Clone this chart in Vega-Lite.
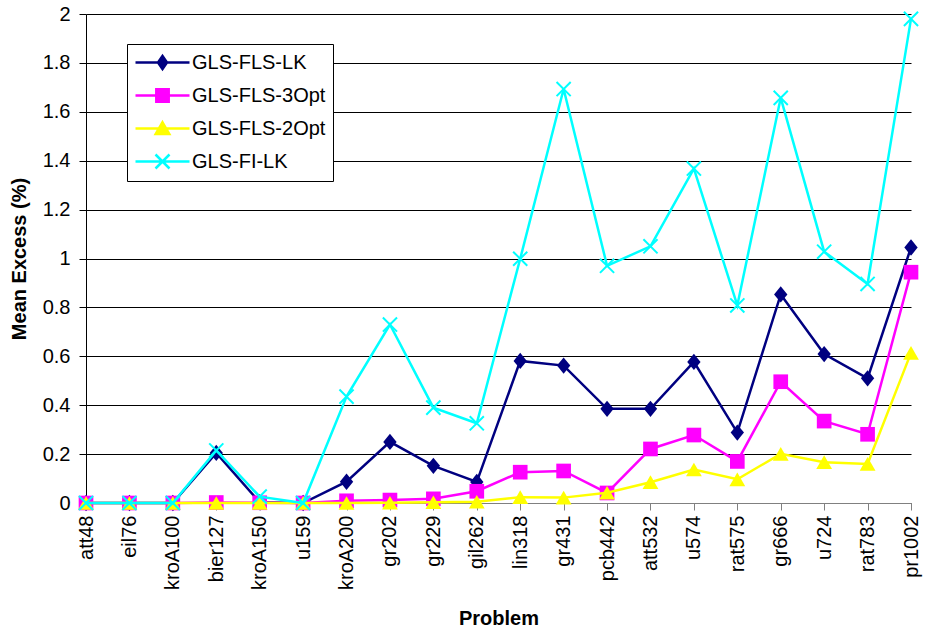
{
  "$schema": "https://vega.github.io/schema/vega-lite/v6.json",
  "width": 825,
  "height": 489,
  "autosize": {"type": "none"},
  "padding": {"left": 86, "top": 14, "right": 19, "bottom": 127},
  "background": "white",
  "config": {
    "view": {"stroke": null},
    "font": "Liberation Sans",
    "axis": {"labelFont": "Liberation Sans", "titleFont": "Liberation Sans", "labelColor": "black", "titleColor": "black", "labelFontSize": 20, "titleFontSize": 20, "titleFontWeight": "bold"}
  },
  "data": {
    "values": [
      {"problem": "att48", "series": "GLS-FLS-LK", "value": 0},
      {"problem": "eil76", "series": "GLS-FLS-LK", "value": 0},
      {"problem": "kroA100", "series": "GLS-FLS-LK", "value": 0},
      {"problem": "bier127", "series": "GLS-FLS-LK", "value": 0.205},
      {"problem": "kroA150", "series": "GLS-FLS-LK", "value": 0.003},
      {"problem": "u159", "series": "GLS-FLS-LK", "value": 0},
      {"problem": "kroA200", "series": "GLS-FLS-LK", "value": 0.087},
      {"problem": "gr202", "series": "GLS-FLS-LK", "value": 0.25},
      {"problem": "gr229", "series": "GLS-FLS-LK", "value": 0.152},
      {"problem": "gil262", "series": "GLS-FLS-LK", "value": 0.086},
      {"problem": "lin318", "series": "GLS-FLS-LK", "value": 0.581},
      {"problem": "gr431", "series": "GLS-FLS-LK", "value": 0.562},
      {"problem": "pcb442", "series": "GLS-FLS-LK", "value": 0.385},
      {"problem": "att532", "series": "GLS-FLS-LK", "value": 0.385},
      {"problem": "u574", "series": "GLS-FLS-LK", "value": 0.577},
      {"problem": "rat575", "series": "GLS-FLS-LK", "value": 0.288},
      {"problem": "gr666", "series": "GLS-FLS-LK", "value": 0.853},
      {"problem": "u724", "series": "GLS-FLS-LK", "value": 0.609},
      {"problem": "rat783", "series": "GLS-FLS-LK", "value": 0.51},
      {"problem": "pr1002", "series": "GLS-FLS-LK", "value": 1.045},
      {"problem": "att48", "series": "GLS-FLS-3Opt", "value": 0},
      {"problem": "eil76", "series": "GLS-FLS-3Opt", "value": 0},
      {"problem": "kroA100", "series": "GLS-FLS-3Opt", "value": 0},
      {"problem": "bier127", "series": "GLS-FLS-3Opt", "value": 0.002},
      {"problem": "kroA150", "series": "GLS-FLS-3Opt", "value": 0.001},
      {"problem": "u159", "series": "GLS-FLS-3Opt", "value": 0},
      {"problem": "kroA200", "series": "GLS-FLS-3Opt", "value": 0.009},
      {"problem": "gr202", "series": "GLS-FLS-3Opt", "value": 0.012},
      {"problem": "gr229", "series": "GLS-FLS-3Opt", "value": 0.017},
      {"problem": "gil262", "series": "GLS-FLS-3Opt", "value": 0.048},
      {"problem": "lin318", "series": "GLS-FLS-3Opt", "value": 0.126},
      {"problem": "gr431", "series": "GLS-FLS-3Opt", "value": 0.131},
      {"problem": "pcb442", "series": "GLS-FLS-3Opt", "value": 0.041},
      {"problem": "att532", "series": "GLS-FLS-3Opt", "value": 0.221},
      {"problem": "u574", "series": "GLS-FLS-3Opt", "value": 0.278},
      {"problem": "rat575", "series": "GLS-FLS-3Opt", "value": 0.17},
      {"problem": "gr666", "series": "GLS-FLS-3Opt", "value": 0.496},
      {"problem": "u724", "series": "GLS-FLS-3Opt", "value": 0.335},
      {"problem": "rat783", "series": "GLS-FLS-3Opt", "value": 0.281},
      {"problem": "pr1002", "series": "GLS-FLS-3Opt", "value": 0.944},
      {"problem": "att48", "series": "GLS-FLS-2Opt", "value": 0},
      {"problem": "eil76", "series": "GLS-FLS-2Opt", "value": 0},
      {"problem": "kroA100", "series": "GLS-FLS-2Opt", "value": 0},
      {"problem": "bier127", "series": "GLS-FLS-2Opt", "value": 0},
      {"problem": "kroA150", "series": "GLS-FLS-2Opt", "value": 0},
      {"problem": "u159", "series": "GLS-FLS-2Opt", "value": 0},
      {"problem": "kroA200", "series": "GLS-FLS-2Opt", "value": 0},
      {"problem": "gr202", "series": "GLS-FLS-2Opt", "value": 0.001},
      {"problem": "gr229", "series": "GLS-FLS-2Opt", "value": 0.003},
      {"problem": "gil262", "series": "GLS-FLS-2Opt", "value": 0.005},
      {"problem": "lin318", "series": "GLS-FLS-2Opt", "value": 0.024},
      {"problem": "gr431", "series": "GLS-FLS-2Opt", "value": 0.022},
      {"problem": "pcb442", "series": "GLS-FLS-2Opt", "value": 0.042},
      {"problem": "att532", "series": "GLS-FLS-2Opt", "value": 0.085},
      {"problem": "u574", "series": "GLS-FLS-2Opt", "value": 0.137},
      {"problem": "rat575", "series": "GLS-FLS-2Opt", "value": 0.097},
      {"problem": "gr666", "series": "GLS-FLS-2Opt", "value": 0.201},
      {"problem": "u724", "series": "GLS-FLS-2Opt", "value": 0.167},
      {"problem": "rat783", "series": "GLS-FLS-2Opt", "value": 0.16},
      {"problem": "pr1002", "series": "GLS-FLS-2Opt", "value": 0.614},
      {"problem": "att48", "series": "GLS-FI-LK", "value": 0},
      {"problem": "eil76", "series": "GLS-FI-LK", "value": 0},
      {"problem": "kroA100", "series": "GLS-FI-LK", "value": 0},
      {"problem": "bier127", "series": "GLS-FI-LK", "value": 0.215},
      {"problem": "kroA150", "series": "GLS-FI-LK", "value": 0.026},
      {"problem": "u159", "series": "GLS-FI-LK", "value": 0},
      {"problem": "kroA200", "series": "GLS-FI-LK", "value": 0.435},
      {"problem": "gr202", "series": "GLS-FI-LK", "value": 0.73},
      {"problem": "gr229", "series": "GLS-FI-LK", "value": 0.39},
      {"problem": "gil262", "series": "GLS-FI-LK", "value": 0.326},
      {"problem": "lin318", "series": "GLS-FI-LK", "value": 0.999},
      {"problem": "gr431", "series": "GLS-FI-LK", "value": 1.693},
      {"problem": "pcb442", "series": "GLS-FI-LK", "value": 0.97},
      {"problem": "att532", "series": "GLS-FI-LK", "value": 1.05},
      {"problem": "u574", "series": "GLS-FI-LK", "value": 1.368},
      {"problem": "rat575", "series": "GLS-FI-LK", "value": 0.808},
      {"problem": "gr666", "series": "GLS-FI-LK", "value": 1.657},
      {"problem": "u724", "series": "GLS-FI-LK", "value": 1.028},
      {"problem": "rat783", "series": "GLS-FI-LK", "value": 0.896},
      {"problem": "pr1002", "series": "GLS-FI-LK", "value": 1.98}
    ]
  },
  "encoding": {
    "x": {
      "field": "problem", "type": "ordinal",
      "scale": {"type": "point", "padding": 0, "domain": ["att48","eil76","kroA100","bier127","kroA150","u159","kroA200","gr202","gr229","gil262","lin318","gr431","pcb442","att532","u574","rat575","gr666","u724","rat783","pr1002"]},
      "axis": {"title": "Problem", "labelAngle": -90, "labelPadding": 5, "tickSize": 7, "domainColor": "#808080", "tickColor": "#808080", "domainWidth": 1, "grid": false, "titlePadding": 19}
    },
    "y": {
      "field": "value", "type": "quantitative",
      "scale": {"domain": [0, 2], "nice": false},
      "axis": {"title": "Mean Excess (%)", "values": [0, 0.2, 0.4, 0.6, 0.8, 1, 1.2, 1.4, 1.6, 1.8, 2], "format": "~g", "tickSize": 7, "labelPadding": 9, "domainColor": "black", "tickColor": "black", "grid": true, "gridColor": "black", "gridOpacity": 1, "gridWidth": 1, "titlePadding": 13}
    }
  },
  "layer": [
    {"transform": [{"filter": "datum.series === 'GLS-FLS-LK'"}], "mark": {"type": "line", "color": "#000080", "strokeWidth": 2.5}},
    {"transform": [{"filter": "datum.series === 'GLS-FLS-LK'"}], "mark": {"type": "point", "filled": true, "opacity": 1, "color": "#000080", "shape": "M0,-1.1L0.9,0L0,1.1L-0.9,0Z", "size": 220}},
    {"transform": [{"filter": "datum.series === 'GLS-FLS-3Opt'"}], "mark": {"type": "line", "color": "#FF00FF", "strokeWidth": 2.5}},
    {"transform": [{"filter": "datum.series === 'GLS-FLS-3Opt'"}], "mark": {"type": "point", "filled": true, "opacity": 1, "color": "#FF00FF", "shape": "square", "size": 215}},
    {"transform": [{"filter": "datum.series === 'GLS-FLS-2Opt'"}], "mark": {"type": "line", "color": "#FFFF00", "strokeWidth": 2.5}},
    {"transform": [{"filter": "datum.series === 'GLS-FLS-2Opt'"}], "mark": {"type": "point", "filled": true, "opacity": 1, "color": "#FFFF00", "shape": "triangle-up", "size": 250}},
    {"transform": [{"filter": "datum.series === 'GLS-FI-LK'"}], "mark": {"type": "line", "color": "#00FFFF", "strokeWidth": 2.5}},
    {"transform": [{"filter": "datum.series === 'GLS-FI-LK'"}], "mark": {"type": "point", "filled": false, "opacity": 1, "color": "#00FFFF", "strokeWidth": 2, "shape": "M-1,-1L1,1M-1,1L1,-1", "size": 200}},
    {
      "mark": {"type": "point", "filled": true, "opacity": 0},
      "encoding": {
        "shape": {"field": "series", "type": "nominal",
          "scale": {"domain": ["GLS-FLS-LK","GLS-FLS-3Opt","GLS-FLS-2Opt","GLS-FI-LK"], "range": ["M-1,0H4.4M1.7,-0.65L2.15,0L1.7,0.65L1.25,0Z", "M-1,0H4.4M1.08,-0.62H2.32V0.62H1.08Z", "M-1,0H4.4M1.7,-0.62L2.38,0.55H1.02Z", "M-1,0H4.4M1,-0.7L2.4,0.7M1,0.7L2.4,-0.7"]},
          "legend": {"orient": "none", "legendX": 41, "legendY": 30, "title": null, "symbolSize": 400, "symbolStrokeWidth": 2.5, "symbolOpacity": 1, "labelFont": "Liberation Sans", "labelFontSize": 20, "labelColor": "black", "labelOffset": 35, "rowPadding": 10, "padding": 7, "strokeColor": "black", "fillColor": "white"}},
        "fill": {"field": "series", "type": "nominal",
          "scale": {"domain": ["GLS-FLS-LK","GLS-FLS-3Opt","GLS-FLS-2Opt","GLS-FI-LK"], "range": ["#000080", "#FF00FF", "#FFFF00", "#00FFFF"]},
          "legend": {"orient": "none", "legendX": 41, "legendY": 30, "title": null, "symbolSize": 400, "symbolStrokeWidth": 2.5, "symbolOpacity": 1, "labelFont": "Liberation Sans", "labelFontSize": 20, "labelColor": "black", "labelOffset": 35, "rowPadding": 10, "padding": 7, "strokeColor": "black", "fillColor": "white"}},
        "stroke": {"field": "series", "type": "nominal",
          "scale": {"domain": ["GLS-FLS-LK","GLS-FLS-3Opt","GLS-FLS-2Opt","GLS-FI-LK"], "range": ["#000080", "#FF00FF", "#FFFF00", "#00FFFF"]},
          "legend": {"orient": "none", "legendX": 41, "legendY": 30, "title": null, "symbolSize": 400, "symbolStrokeWidth": 2.5, "symbolOpacity": 1, "labelFont": "Liberation Sans", "labelFontSize": 20, "labelColor": "black", "labelOffset": 35, "rowPadding": 10, "padding": 7, "strokeColor": "black", "fillColor": "white"}}
      }
    }
  ]
}
